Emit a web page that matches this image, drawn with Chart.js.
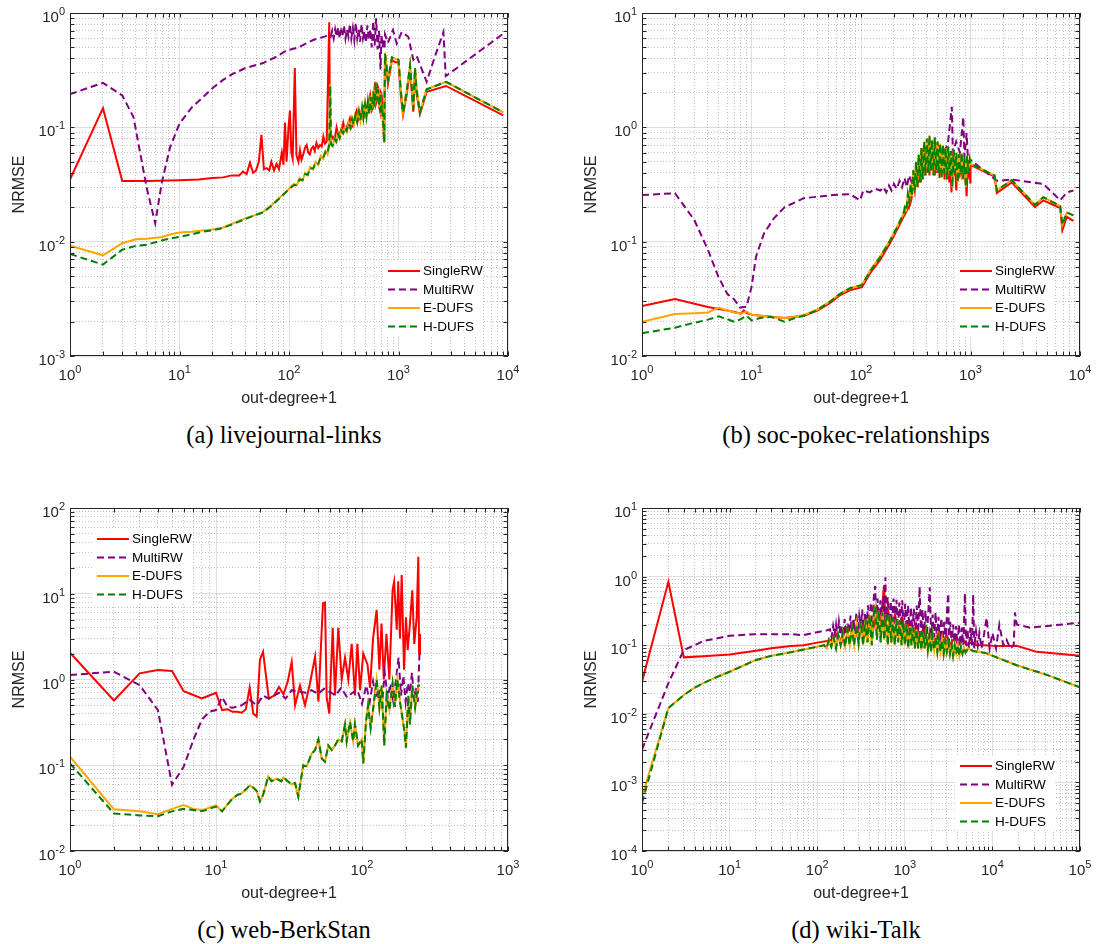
<!DOCTYPE html>
<html lang="en">
<head>
    <meta charset="UTF-8">
    <title>NRMSE vs out-degree</title>
    <script src="https://cdn.jsdelivr.net/npm/chart.js@4.4.1/dist/chart.umd.min.js"></script>
    <style>
        body {
            margin: 0;
            background: #fff;
            width: 1096px;
            height: 944px;
            position: relative;
            overflow: hidden;
        }
        .panel {
            position: absolute;
            width: 548px;
            height: 410px;
        }
        .caption {
            position: absolute;
            width: 440px;
            text-align: center;
            font-family: 'Liberation Serif', 'Times New Roman', serif;
            font-size: 24.5px;
            line-height: 28px;
            color: #000;
        }
    </style>
</head>
<body>
    <div class="panel" style="left:0;top:0"><canvas id="chartA" width="548" height="410"></canvas></div>
    <div class="panel" style="left:572px;top:0"><canvas id="chartB" width="548" height="410"></canvas></div>
    <div class="panel" style="left:0;top:495px"><canvas id="chartC" width="548" height="410"></canvas></div>
    <div class="panel" style="left:572px;top:495px"><canvas id="chartD" width="548" height="410"></canvas></div>

    <div class="caption" style="left:64px;top:421px">(a) livejournal-links</div>
    <div class="caption" style="left:636px;top:421px">(b) soc-pokec-relationships</div>
    <div class="caption" style="left:64px;top:916px">(c) web-BerkStan</div>
    <div class="caption" style="left:636px;top:916px">(d) wiki-Talk</div>

    <script>
// ---------- (a) livejournal-links ----------
const aSingleX = [1, 2, 3, 5, 10, 15, 20, 25, 30, 35,
    38, 41, 44, 47, 50, 53, 56, 59, 62.5, 66,
    69, 73, 77, 81, 86, 89, 92, 95, 99, 102,
    105, 108, 113, 117, 122, 126, 130, 135, 140, 145,
    150, 155, 160, 166, 172, 178, 185, 192, 199, 206,
    213, 221, 233, 237, 244, 252, 262, 272, 282, 292,
    302, 313, 324, 336, 348, 360, 373, 387, 400, 415,
    430, 445, 460, 477, 494, 512, 530, 550, 569, 589,
    610, 621, 632, 644, 655, 666, 677, 690, 703, 715,
    728, 742, 753, 802, 871, 930, 1000, 1050, 1100, 1190,
    1275, 1365, 1415, 1465, 1570, 1807, 2717, 9060];
const aSingleY = [0.035, 0.147, 0.034, 0.034, 0.0345, 0.035, 0.036, 0.0365, 0.038, 0.038,
    0.041, 0.039, 0.049, 0.04, 0.042, 0.05, 0.086, 0.043, 0.044, 0.042,
    0.05, 0.042, 0.048, 0.043, 0.06, 0.047, 0.11, 0.05, 0.1, 0.14,
    0.06, 0.053, 0.33, 0.057, 0.05, 0.063, 0.052, 0.058, 0.066, 0.07,
    0.06, 0.058, 0.065, 0.068, 0.062, 0.073, 0.066, 0.07, 0.068, 0.083,
    0.072, 0.075, 0.83, 0.09, 0.078, 0.083, 0.08, 0.1, 0.085, 0.09,
    0.095, 0.11, 0.094, 0.1, 0.11, 0.12, 0.1, 0.105, 0.125, 0.14,
    0.115, 0.12, 0.14, 0.15, 0.125, 0.13, 0.155, 0.19, 0.14, 0.15,
    0.25, 0.16, 0.17, 0.23, 0.22, 0.15, 0.14, 0.2, 0.19, 0.13,
    0.105, 0.075, 0.44, 0.24, 0.39, 0.37, 0.37, 0.19, 0.128, 0.195,
    0.32, 0.137, 0.31, 0.195, 0.13, 0.205, 0.23, 0.127];

const aMultiX = [1, 2, 3, 3.8, 5, 6, 6.9, 8.2, 10, 13,
    16, 20, 25, 30, 40, 58, 75, 95, 122, 166,
    233, 240, 248, 256, 264, 272, 281, 290, 299, 308,
    318, 328, 338, 349, 360, 371, 383, 395, 407, 420,
    433, 446, 460, 474, 489, 504, 520, 536, 553, 570,
    588, 606, 625, 644, 664, 676, 685, 700, 715, 730,
    745, 753, 800, 890, 963, 1070, 1230, 1365, 1465, 1807,
    2140, 2570, 2700, 9060];
const aMultiY = [0.195, 0.245, 0.19, 0.123, 0.03, 0.0145, 0.033, 0.067, 0.108, 0.15,
    0.18, 0.22, 0.26, 0.29, 0.33, 0.365, 0.41, 0.47, 0.5, 0.58,
    0.64, 0.62, 0.7, 0.6, 0.72, 0.62, 0.75, 0.6, 0.7, 0.63,
    0.78, 0.6, 0.72, 0.62, 0.8, 0.6, 0.74, 0.58, 0.82, 0.6,
    0.72, 0.56, 0.8, 0.6, 0.7, 0.55, 0.78, 0.58, 0.72, 0.5,
    0.85, 0.52, 0.9, 0.48, 0.7, 0.45, 0.32, 0.65, 0.5, 0.6,
    0.48, 0.65, 0.55, 0.71, 0.54, 0.68, 0.62, 0.39, 0.42, 0.25,
    0.41, 0.68, 0.28, 0.66];

const aDufsX = [1, 2, 3, 4, 5, 7, 8, 10,
    13, 16, 20, 25, 31, 40, 50, 58, 70, 85, 100,
    110, 118, 125, 133, 140, 148, 156, 166, 175, 185,
    195, 205, 215, 225, 233, 238, 242, 250, 260, 270,
    280, 290, 300, 312, 325, 337, 350, 363, 377, 390,
    405, 420, 435, 450, 465, 478, 495, 510, 525, 540,
    555, 570, 590, 605, 620, 635, 650, 665, 680, 695,
    705, 720, 740, 753, 802, 871, 930, 1000, 1050, 1100,
    1190, 1275, 1365, 1415, 1465, 1570, 1807, 2717, 9060];
const aEdufsY = [0.0092, 0.0076, 0.0097, 0.0105, 0.0106, 0.011, 0.0115, 0.012,
    0.0122, 0.0125, 0.0128, 0.0133, 0.0145, 0.016, 0.0172, 0.0182, 0.021, 0.025, 0.029,
    0.032, 0.031, 0.036, 0.034, 0.04, 0.038, 0.045, 0.043, 0.05, 0.047,
    0.056, 0.053, 0.062, 0.058, 0.073, 0.24, 0.07, 0.068, 0.08, 0.074,
    0.088, 0.08, 0.095, 0.088, 0.1, 0.092, 0.11, 0.098, 0.12, 0.105,
    0.13, 0.11, 0.14, 0.115, 0.15, 0.12, 0.16, 0.125, 0.17, 0.13,
    0.19, 0.14, 0.21, 0.15, 0.25, 0.17, 0.22, 0.15, 0.2, 0.13,
    0.16, 0.12, 0.073, 0.45, 0.26, 0.41, 0.4, 0.39, 0.21, 0.135,
    0.21, 0.35, 0.145, 0.33, 0.21, 0.135, 0.215, 0.25, 0.135];
const aHdufsY = [0.0078, 0.0063, 0.0085, 0.0092, 0.0094, 0.0103, 0.0106, 0.011,
    0.0116, 0.0122, 0.0126, 0.0132, 0.0143, 0.0158, 0.0172, 0.018, 0.0208, 0.0248, 0.0288,
    0.031, 0.0315, 0.035, 0.0345, 0.039, 0.0385, 0.044, 0.0435, 0.049, 0.048,
    0.055, 0.054, 0.061, 0.059, 0.072, 0.23, 0.071, 0.069, 0.079, 0.075,
    0.087, 0.081, 0.094, 0.089, 0.099, 0.093, 0.108, 0.099, 0.118, 0.106,
    0.128, 0.111, 0.138, 0.116, 0.148, 0.121, 0.158, 0.126, 0.168, 0.131,
    0.185, 0.142, 0.205, 0.152, 0.245, 0.172, 0.215, 0.152, 0.195, 0.132,
    0.158, 0.121, 0.074, 0.44, 0.26, 0.41, 0.4, 0.39, 0.21, 0.135,
    0.21, 0.35, 0.145, 0.33, 0.21, 0.135, 0.215, 0.25, 0.135];

// ---------- (b) soc-pokec-relationships ----------
const bSingleX = [1, 2, 4, 6, 8, 8.5, 9, 10, 12, 15,
    20, 25, 30, 40, 52, 64, 79, 102, 121, 149,
    184, 212, 244, 280, 290, 300, 310, 320, 330, 340,
    352, 365, 378, 390, 400, 410, 422, 435, 447, 460,
    472, 485, 497, 510, 522, 535, 550, 565, 580, 595,
    610, 625, 640, 655, 670, 685, 700, 720, 742, 760,
    780, 800, 820, 840, 860, 880, 900, 922, 940, 960,
    980, 995, 1000, 1660, 1740, 2380, 3880, 4620, 6600, 6900,
    7580, 8700];
const bSingleY = [0.0273, 0.0315, 0.0268, 0.025, 0.0235, 0.025, 0.0238, 0.023, 0.0225, 0.022,
    0.0215, 0.022, 0.0225, 0.025, 0.029, 0.034, 0.0375, 0.04, 0.053, 0.069,
    0.097, 0.126, 0.164, 0.21, 0.24, 0.35, 0.28, 0.42, 0.3, 0.55,
    0.33, 0.65, 0.38, 0.6, 0.4, 0.7, 0.38, 0.68, 0.42, 0.62,
    0.38, 0.66, 0.4, 0.6, 0.36, 0.55, 0.4, 0.58, 0.35, 0.55,
    0.4, 0.52, 0.33, 0.5, 0.27, 0.48, 0.38, 0.5, 0.28, 0.5,
    0.36, 0.48, 0.4, 0.5, 0.35, 0.48, 0.38, 0.25, 0.45, 0.4,
    0.5, 0.33, 0.47, 0.37, 0.266, 0.33, 0.2, 0.23, 0.197, 0.126,
    0.165, 0.152];

const bMultiX = [1, 2, 3, 4, 5, 6, 7, 7.85, 9, 10,
    11, 13, 16, 20, 30, 56, 80, 98, 105, 120,
    135, 150, 160, 170, 180, 190, 200, 212, 225, 237,
    250, 262, 275, 290, 305, 320, 335, 350, 380, 420,
    460, 500, 560, 620, 675, 690, 740, 800, 860, 880,
    922, 950, 1000, 1740, 2380, 4620, 6600, 7580, 8700];
const bMultiY = [0.256, 0.265, 0.155, 0.085, 0.049, 0.035, 0.031, 0.0265, 0.027, 0.04,
    0.074, 0.118, 0.16, 0.2, 0.24, 0.256, 0.26, 0.23, 0.28, 0.27,
    0.29, 0.28, 0.3, 0.27, 0.31, 0.28, 0.32, 0.29, 0.34, 0.3,
    0.36, 0.3, 0.38, 0.33, 0.42, 0.36, 0.45, 0.4, 0.5, 0.55,
    0.5, 0.72, 0.6, 0.7, 1.51, 0.6, 0.75, 0.6, 1.23, 0.55,
    0.89, 0.5, 0.52, 0.34, 0.35, 0.32, 0.23, 0.27, 0.28];

const bDufsX = [1, 2, 3, 4, 5, 6, 7, 8, 9, 10,
    12, 15, 20, 25, 30, 40, 52, 64, 79, 102,
    121, 149, 184, 212,
    244, 252, 260, 268, 276, 284, 292, 300, 309, 318,
    327, 336, 346, 356, 366, 377, 388, 399, 410, 422,
    434, 446, 459, 472, 486, 500, 514, 529, 544, 560,
    576, 592, 609, 627, 645, 663, 682, 702, 722, 743,
    764, 786, 809, 832, 856, 881, 906, 932, 959, 986, 1000,
    1660, 1740, 2380, 3880, 4620, 6600, 6900, 7580, 8700];
// E-DUFS and H-DUFS share the same values from x = 244 on
const bDufsBandY = [0.175, 0.2, 0.19, 0.26, 0.22, 0.32, 0.25, 0.42, 0.28, 0.5,
    0.3, 0.58, 0.33, 0.66, 0.35, 0.75, 0.38, 0.8, 0.4, 0.85,
    0.42, 0.78, 0.38, 0.82, 0.42, 0.75, 0.4, 0.72, 0.36, 0.7,
    0.4, 0.66, 0.35, 0.68, 0.38, 0.62, 0.3, 0.64, 0.4, 0.6,
    0.33, 0.58, 0.4, 0.6, 0.36, 0.55, 0.3, 0.56, 0.4, 0.52, 0.48,
    0.38, 0.28, 0.345, 0.21, 0.245, 0.205, 0.14, 0.18, 0.17];
const bEdufsY = [0.0199, 0.0233, 0.0237, 0.024, 0.0265, 0.025, 0.024, 0.0235, 0.0245, 0.023,
    0.0225, 0.022, 0.0215, 0.022, 0.0228, 0.0255, 0.03, 0.035, 0.039, 0.042,
    0.056, 0.074, 0.103, 0.133].concat(bDufsBandY);
const bHdufsY = [0.0158, 0.0177, 0.0195, 0.0208, 0.0222, 0.021, 0.0199, 0.021, 0.0225, 0.0205,
    0.0215, 0.022, 0.02, 0.0215, 0.0225, 0.0253, 0.0298, 0.0348, 0.0392, 0.0418,
    0.055, 0.073, 0.102, 0.132].concat(bDufsBandY);

// ---------- (c) web-BerkStan ----------
const cSingleX = [1, 2, 3, 4, 5, 6, 7, 8, 9, 10,
    11, 12, 13, 14, 15, 16, 17, 18, 19, 20,
    21, 23, 25, 27, 29, 31, 33, 34.8, 37.6, 40.7,
    44, 47.7, 50.3, 54, 55.8, 57.3, 59.7, 63, 65.3, 68.8,
    72.6, 76.5, 80.6, 85, 89.5, 93, 97, 102, 109, 113.5,
    119, 126, 131.5, 136, 141, 147, 154, 162, 166, 173,
    177, 182, 187, 194, 200, 205.6, 213, 221, 228, 237,
    243, 246, 249.5];
const cSingleY = [2.05, 0.57, 1.18, 1.29, 1.26, 0.73, 0.66, 0.6, 0.65, 0.7,
    0.44, 0.45, 0.42, 0.42, 0.41, 0.45, 0.8, 0.4, 0.37, 1.7,
    2.1, 0.6, 0.65, 0.82, 0.67, 0.95, 1.6, 0.5, 0.85, 0.5,
    0.9, 1.85, 0.55, 7.7, 7.9, 0.62, 0.4, 4, 0.65, 4,
    1.0, 1.8, 1.0, 2.6, 0.65, 2.6, 0.75, 2.0, 1.5, 0.8,
    3.0, 6.5, 1.3, 4.5, 1.0, 3.4, 1.0, 11, 13.8, 3.8,
    14, 3.0, 16.5, 1.3, 5.3, 2.2, 4.5, 11, 2.6, 5.3,
    27, 2.0, 3.4];

const cMultiX = [1, 2, 3, 4, 5, 6, 7, 8, 9, 10,
    11, 12, 13, 15, 17, 19, 21, 23, 25, 27,
    30, 33, 37, 41, 45, 50, 55, 60, 66, 72,
    79, 86, 93, 100, 107, 113, 119, 125, 131, 137,
    143, 150, 157, 164, 171, 178, 185, 192, 199, 206,
    213, 220, 227, 234, 241, 248];
const cMultiY = [1.13, 1.23, 0.86, 0.44, 0.059, 0.096, 0.197, 0.34, 0.42, 0.44,
    0.62, 0.48, 0.47, 0.5, 0.58, 0.5, 0.65, 0.6, 0.65, 0.7,
    0.6, 0.75, 0.72, 0.7, 0.75, 0.68, 0.78, 0.72, 0.65, 0.8,
    0.62, 0.7, 0.75, 0.52, 0.85, 0.55, 0.95, 0.6, 0.8, 0.5,
    1.2, 0.62, 0.9, 0.55, 1.0, 1.8, 0.65, 1.1, 0.55, 0.9,
    0.7, 1.2, 0.6, 0.8, 0.55, 2.2];

const cDufsX = [1, 2, 3, 4, 5, 6, 7, 8, 9, 10,
    11, 12, 13, 14, 15, 16, 17, 18, 19, 20,
    21, 22.8, 24, 26, 28, 29, 31, 33, 34.8, 36.6,
    39.6, 41.8, 45.2, 47.7, 50.3, 53, 55.8, 58.8, 62, 65.3,
    68.8, 72.6, 76.5, 78.5, 82.8, 87, 89.5, 94, 99.5, 102,
    106.5, 110, 114.6, 119.5, 126, 131.5, 136.5, 142, 147.5, 154,
    162, 168, 174.6, 182, 194, 200, 207.6, 213, 221, 231,
    237, 243, 249.5];
// both DUFS variants coincide from x = 11 on
const cDufsBandY = [0.029, 0.035, 0.041, 0.045, 0.047, 0.052, 0.058, 0.055, 0.05, 0.038,
    0.045, 0.074, 0.065, 0.07, 0.065, 0.072, 0.065, 0.06, 0.062, 0.043,
    0.1, 0.097, 0.137, 0.15, 0.2, 0.12, 0.11, 0.17, 0.15, 0.17,
    0.2, 0.19, 0.3, 0.19, 0.32, 0.19, 0.3, 0.17, 0.2, 0.105,
    0.32, 0.5, 0.27, 0.47, 1.0, 0.47, 0.85, 0.17, 0.65, 0.44,
    0.9, 0.48, 1.0, 0.55, 0.27, 0.16, 0.65, 0.3, 0.85, 0.47,
    0.65, 0.85, 0.85];
const cEdufsY = [0.126, 0.0306, 0.029, 0.0269, 0.031, 0.0344, 0.031, 0.03, 0.032, 0.034].concat(cDufsBandY);
const cHdufsY = [0.105, 0.0274, 0.026, 0.0255, 0.029, 0.031, 0.03, 0.029, 0.031, 0.033].concat(cDufsBandY);

// ---------- (d) wiki-Talk ----------
const dSingleX = [1, 2, 3, 5, 10, 20, 30, 50, 70, 100,
    130, 150, 170, 190, 210, 235, 260, 290, 320, 350,
    390, 430, 470, 520, 580, 600, 650, 700, 770, 850,
    930, 1020, 1120, 1230, 1350, 1480, 1630, 1800, 2000, 2200,
    2450, 2700, 3000, 3300, 3700, 4100, 4600, 5100, 5700, 6500,
    8000, 10000, 14000, 18900, 32000, 100000];
const dSingleY = [0.0294, 0.84, 0.0665, 0.069, 0.0734, 0.083, 0.09, 0.097, 0.1, 0.109,
    0.115, 0.12, 0.15, 0.11, 0.18, 0.12, 0.2, 0.13, 0.22, 0.14,
    0.25, 0.15, 0.3, 0.16, 0.75, 0.2, 0.3, 0.16, 0.28, 0.15,
    0.25, 0.14, 0.22, 0.13, 0.2, 0.12, 0.18, 0.12, 0.17, 0.11,
    0.15, 0.11, 0.14, 0.1, 0.13, 0.1, 0.12, 0.1, 0.11, 0.1,
    0.1, 0.098, 0.097, 0.098, 0.08, 0.07];

const dMultiX = [1, 2, 3, 4, 5, 7, 10, 20, 50, 70, 100, 130,
    140, 146, 152, 158, 164, 170, 177, 184, 191, 198,
    206, 214, 222, 231, 240, 249, 259, 269, 280, 291,
    302, 314, 326, 339, 352, 366, 380, 395, 410, 426,
    443, 460, 470, 488, 507, 527, 548, 569, 591, 600,
    614, 638, 663, 689, 716, 744, 773, 803, 834, 866,
    900, 935, 971, 1009, 1048, 1089, 1131, 1175, 1221, 1268,
    1317, 1368, 1421, 1476, 1533, 1593, 1655, 1719, 1786, 1855,
    1927, 2002, 2080, 2160, 2244, 2331, 2422, 2516, 2613, 2715,
    2820, 2930, 3044, 3140, 3180, 3300, 3430, 3560, 3700, 3850,
    4000, 4150, 4310, 4480, 4650, 4860, 5000, 5200, 5400, 5600,
    5850, 6040, 6200, 6500, 6800, 7100, 7500, 8000, 8590, 9300,
    10000, 11000, 12000, 13300, 14500, 16000, 17500, 18100, 19000, 26900, 100000];
const dMultiY = [0.003, 0.028, 0.085, 0.1, 0.115, 0.125, 0.137, 0.145, 0.145, 0.14, 0.155, 0.165,
    0.17, 0.13, 0.19, 0.14, 0.2, 0.13, 0.22, 0.14, 0.19, 0.13,
    0.24, 0.14, 0.21, 0.15, 0.27, 0.14, 0.25, 0.16, 0.3, 0.15,
    0.26, 0.17, 0.33, 0.16, 0.3, 0.18, 0.38, 0.17, 0.42, 0.2,
    0.5, 0.73, 0.2, 0.48, 0.18, 0.45, 0.2, 0.52, 0.19, 0.98,
    0.22, 0.5, 0.18, 0.44, 0.2, 0.48, 0.19, 0.46, 0.17, 0.42,
    0.18, 0.45, 0.16, 0.4, 0.17, 0.38, 0.15, 0.36, 0.16, 0.34,
    0.14, 0.38, 0.15, 0.71, 0.14, 0.33, 0.13, 0.32, 0.14, 0.3,
    0.7, 0.12, 0.28, 0.13, 0.3, 0.12, 0.26, 0.11, 0.25, 0.12,
    0.22, 0.11, 0.35, 0.57, 0.11, 0.22, 0.1, 0.2, 0.11, 0.19,
    0.1, 0.2, 0.1, 0.18, 0.1, 0.57, 0.1, 0.17, 0.09, 0.18,
    0.1, 0.55, 0.09, 0.16, 0.1, 0.15, 0.09, 0.14, 0.25, 0.09,
    0.15, 0.09, 0.2, 0.1, 0.12, 0.09, 0.1, 0.3, 0.2, 0.18, 0.213];

const dDufsX = [1, 2, 3, 4, 5, 7, 10, 20, 30, 50, 100,
    120, 128, 136, 145, 154, 164, 174, 185, 196, 208,
    221, 235, 249, 264, 280, 297, 315, 334, 354, 375,
    397, 420, 444, 460, 480, 505, 530, 556, 583, 611,
    640, 670, 701, 733, 767, 802, 839, 877, 917, 958,
    1001, 1046, 1093, 1142, 1193, 1246, 1301, 1358, 1418, 1480,
    1545, 1612, 1682, 1755, 1831, 1910, 1992, 2077, 2166, 2258,
    2354, 2454, 2558, 2666, 2779, 2896, 3018, 3145, 3277, 3415,
    3558, 3707, 3862, 4024, 4192, 4367, 4550, 4740, 4938, 5300,
    6000, 7000, 8590, 18900, 41700, 100000];
// both DUFS variants coincide from x = 2 on
const dDufsBandY = [0.0121, 0.0188, 0.024, 0.028, 0.034, 0.041, 0.061, 0.07, 0.079, 0.095,
    0.1, 0.09, 0.12, 0.095, 0.13, 0.09, 0.14, 0.1, 0.15, 0.095,
    0.17, 0.1, 0.18, 0.1, 0.2, 0.105, 0.22, 0.1, 0.24, 0.11,
    0.27, 0.1, 0.3, 0.37, 0.12, 0.32, 0.11, 0.3, 0.12, 0.28,
    0.1, 0.27, 0.11, 0.25, 0.1, 0.24, 0.11, 0.23, 0.1, 0.22,
    0.1, 0.2, 0.09, 0.19, 0.1, 0.18, 0.09, 0.17, 0.09, 0.16,
    0.085, 0.16, 0.09, 0.15, 0.085, 0.14, 0.08, 0.14, 0.085, 0.13,
    0.08, 0.125, 0.08, 0.12, 0.075, 0.115, 0.08, 0.11, 0.075, 0.105,
    0.07, 0.1, 0.075, 0.1, 0.07, 0.095, 0.075, 0.092, 0.078, 0.09,
    0.082, 0.08, 0.076, 0.051, 0.037, 0.0243];
const dEdufsY = [0.00062].concat(dDufsBandY);
const dHdufsY = [0.0005].concat(dDufsBandY);

// ---------- shared styling ----------
const FONT = "'Liberation Sans', Arial, Helvetica, sans-serif";
const INK = '#262626';
const RED = '#FF0000', PURPLE = '#800080', ORANGE = '#FFA500', GREEN = '#008000';
const DASH = [7, 4];

const isDecade = v => {
    const e = Math.log10(v);
    return Math.abs(e - Math.round(e)) < 1e-6;
};

// 1..9 x 10^k ticks so every minor grid line shows up
const logTicks = (min, max) => {
    const ticks = [];
    for (let e = Math.round(Math.log10(min)); e < Math.round(Math.log10(max)); e++) {
        for (let m = 1; m < 10; m++) ticks.push({ value: m * Math.pow(10, e) });
    }
    ticks.push({ value: max });
    return ticks;
};

const logAxis = (min, max, title, isX) => ({
    type: 'logarithmic',
    min: min,
    max: max,
    afterBuildTicks: scale => { scale.ticks = logTicks(min, max); },
    afterFit: scale => {
        if (isX) scale.height = 54;
        else scale.width = 70;
    },
    ticks: {
        autoSkip: false,
        maxRotation: 0,
        minRotation: 0,
        // decade labels are drawn with a raised exponent by the powerLabels plugin
        callback: () => ''
    },
    grid: {
        drawTicks: false,
        lineWidth: 1,
        color: ctx => (ctx.tick && isDecade(ctx.tick.value)) ? 'rgba(38,38,38,0.15)' : 'rgba(38,38,38,0.28)'
    },
    border: {
        display: false,
        dash: ctx => (ctx.tick && isDecade(ctx.tick.value)) ? [] : [1, 2]
    },
    title: {
        display: true,
        text: title,
        color: INK,
        font: { family: FONT, size: 16 },
        padding: isX ? { top: 0, bottom: 2 } : { top: 10, bottom: 0 }
    }
});

const series = (label, xs, ys, color, dashed, order) => ({
    label: label,
    data: xs.map((x, i) => ({ x: x, y: ys[i] })),
    borderColor: color,
    backgroundColor: color,
    borderWidth: 2,
    borderDash: dashed ? DASH : [],
    pointRadius: 0,
    tension: 0,
    fill: false,
    order: order
});

// axes box with inward tick marks on all four sides
const axesBox = {
    id: 'axesBox',
    afterDatasetsDraw(chart) {
        const { ctx, chartArea: a, scales: { x, y } } = chart;
        const len = 4.5;
        ctx.save();
        ctx.strokeStyle = INK;
        ctx.lineWidth = 1;
        ctx.beginPath();
        x.ticks.forEach(t => {
            const px = Math.round(x.getPixelForValue(t.value)) + 0.5;
            ctx.moveTo(px, a.bottom); ctx.lineTo(px, a.bottom - len);
            ctx.moveTo(px, a.top); ctx.lineTo(px, a.top + len);
        });
        y.ticks.forEach(t => {
            const py = Math.round(y.getPixelForValue(t.value)) + 0.5;
            ctx.moveTo(a.left, py); ctx.lineTo(a.left + len, py);
            ctx.moveTo(a.right, py); ctx.lineTo(a.right - len, py);
        });
        ctx.stroke();
        ctx.strokeRect(a.left + 0.5, a.top + 0.5, a.right - a.left - 1, a.bottom - a.top - 1);
        ctx.restore();
    }
};

// "10" with a small raised exponent at every decade tick
const powerLabels = {
    id: 'powerLabels',
    afterDraw(chart) {
        const { ctx, chartArea: a, scales: { x, y } } = chart;
        const base = '15px ' + FONT, sup = '11px ' + FONT;
        const parts = v => String(Math.round(Math.log10(v)));
        ctx.save();
        ctx.fillStyle = INK;
        ctx.textBaseline = 'alphabetic';
        ctx.textAlign = 'left';
        x.ticks.filter(t => isDecade(t.value)).forEach(t => {
            const e = parts(t.value);
            ctx.font = base; const w1 = ctx.measureText('10').width;
            ctx.font = sup; const w2 = ctx.measureText(e).width;
            const left = x.getPixelForValue(t.value) - (w1 + w2) / 2;
            ctx.font = base; ctx.fillText('10', left, a.bottom + 24);
            ctx.font = sup; ctx.fillText(e, left + w1, a.bottom + 17);
        });
        y.ticks.filter(t => isDecade(t.value)).forEach(t => {
            const e = parts(t.value);
            const py = y.getPixelForValue(t.value);
            ctx.font = base; const w1 = ctx.measureText('10').width;
            ctx.font = sup; const w2 = ctx.measureText(e).width;
            const left = a.left - 5 - w1 - w2;
            ctx.font = base; ctx.fillText('10', left, py + 9);
            ctx.font = sup; ctx.fillText(e, left + w1, py + 2);
        });
        ctx.restore();
    }
};

// legend drawn inside the plot area
const insetLegend = {
    id: 'insetLegend',
    afterDraw(chart, args, opts) {
        const { ctx, chartArea: a } = chart;
        const rowH = 18.5;
        const x0 = opts.corner === 'br' ? a.right - 120 : a.left + 27;
        const y0 = opts.corner === 'br' ? a.bottom - 85 : a.top + 31;
        ctx.save();
        ctx.fillStyle = '#fff';
        ctx.fillRect(x0 - 5, y0 - 10, 100, rowH * 3 + 19);
        chart.data.datasets.forEach((ds, i) => {
            const y = y0 + i * rowH;
            ctx.strokeStyle = ds.borderColor;
            ctx.lineWidth = 2;
            ctx.setLineDash(ds.borderDash);
            ctx.beginPath();
            ctx.moveTo(x0, y);
            ctx.lineTo(x0 + 32, y);
            ctx.stroke();
            ctx.setLineDash([]);
            ctx.fillStyle = '#000';
            ctx.font = '13.5px ' + FONT;
            ctx.textBaseline = 'middle';
            ctx.fillText(ds.label, x0 + 35, y + 0.5);
        });
        ctx.restore();
    }
};

const makeChart = (id, panel, xMax, yMin, yMax, corner) => new Chart(document.getElementById(id), {
    type: 'line',
    data: {
        datasets: [
            series('SingleRW', panel.singleX, panel.singleY, RED, false, 4),
            series('MultiRW', panel.multiX, panel.multiY, PURPLE, true, 3),
            series('E-DUFS', panel.dufsX, panel.edufsY, ORANGE, false, 2),
            series('H-DUFS', panel.dufsX, panel.hdufsY, GREEN, true, 1)
        ]
    },
    options: {
        responsive: false,
        animation: false,
        devicePixelRatio: 1,
        layout: { padding: { left: 0, top: 13, right: 40, bottom: 0 } },
        scales: {
            x: logAxis(1, xMax, 'out-degree+1', true),
            y: logAxis(yMin, yMax, 'NRMSE', false)
        },
        plugins: {
            legend: { display: false },
            tooltip: { enabled: false },
            insetLegend: { corner: corner }
        }
    },
    plugins: [axesBox, powerLabels, insetLegend]
});

makeChart('chartA', { singleX: aSingleX, singleY: aSingleY, multiX: aMultiX, multiY: aMultiY,
    dufsX: aDufsX, edufsY: aEdufsY, hdufsY: aHdufsY }, 1e4, 1e-3, 1, 'br');
makeChart('chartB', { singleX: bSingleX, singleY: bSingleY, multiX: bMultiX, multiY: bMultiY,
    dufsX: bDufsX, edufsY: bEdufsY, hdufsY: bHdufsY }, 1e4, 1e-2, 10, 'br');
makeChart('chartC', { singleX: cSingleX, singleY: cSingleY, multiX: cMultiX, multiY: cMultiY,
    dufsX: cDufsX, edufsY: cEdufsY, hdufsY: cHdufsY }, 1e3, 1e-2, 100, 'tl');
makeChart('chartD', { singleX: dSingleX, singleY: dSingleY, multiX: dMultiX, multiY: dMultiY,
    dufsX: dDufsX, edufsY: dEdufsY, hdufsY: dHdufsY }, 1e5, 1e-4, 10, 'br');
    </script>
</body>
</html>
